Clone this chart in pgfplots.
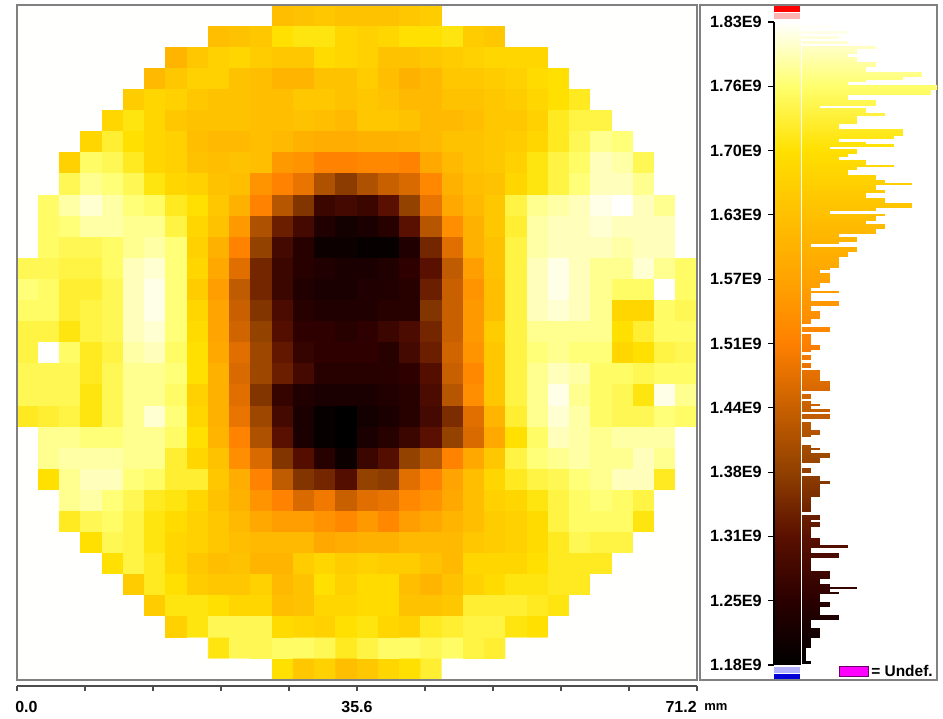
\documentclass[border=0pt]{standalone}
\usepackage{fontspec}
\setmainfont{Liberation Sans}
\usepackage{pgfplots}
\pgfplotsset{compat=1.18}
\pgfplotsset{
  colormap={wafer}{rgb255=(0,0,0) rgb255=(42,0,0) rgb255=(90,16,0) rgb255=(144,64,0) rgb255=(200,96,0) rgb255=(255,128,0) rgb255=(255,164,0) rgb255=(255,192,0) rgb255=(255,224,0) rgb255=(255,255,110) rgb255=(255,255,255)},
}
\definecolor{framegray}{gray}{0.5}
\definecolor{undefm}{RGB}{255,0,255}
\definecolor{undefb}{RGB}{110,0,110}
\begin{document}
\begin{tikzpicture}
\path[use as bounding box] (0,0) rectangle (707.25pt,538.5pt);
% ---------- wafer map
\begin{axis}[
  at={(12.75pt,28.5pt)},anchor=south west,scale only axis,width=510pt,height=506.25pt,
  xmin=-0.5,xmax=31.5,ymin=-0.5,ymax=31.5,y dir=reverse,
  xtick=\empty,ytick=\empty,axis line style={framegray,line width=0.9pt},axis on top,
  colormap name=wafer,point meta min=118,point meta max=183]
\addplot[matrix plot*,mesh/cols=32,point meta=explicit] table[row sep=\\,header=false,x expr={mod(\coordindex,32)},y expr={floor((\coordindex+0.5)/32)},meta index=0]{
183\\183\\183\\183\\183\\183\\183\\183\\183\\183\\183\\183\\163\\164\\165\\164\\164\\164\\165\\166\\183\\183\\183\\183\\183\\183\\183\\183\\183\\183\\183\\183\\
183\\183\\183\\183\\183\\183\\183\\183\\183\\163\\164\\165\\170\\171\\171\\168\\167\\168\\170\\170\\171\\166\\165\\183\\183\\183\\183\\183\\183\\183\\183\\183\\
183\\183\\183\\183\\183\\183\\183\\161\\165\\167\\168\\166\\165\\165\\169\\168\\167\\164\\164\\165\\166\\167\\168\\168\\168\\183\\183\\183\\183\\183\\183\\183\\
183\\183\\183\\183\\183\\183\\162\\165\\167\\167\\164\\163\\161\\161\\164\\164\\166\\163\\160\\162\\165\\165\\166\\167\\169\\170\\183\\183\\183\\183\\183\\183\\
183\\183\\183\\183\\183\\166\\168\\167\\165\\164\\164\\163\\163\\165\\165\\164\\165\\164\\162\\162\\164\\164\\165\\166\\168\\170\\172\\183\\183\\183\\183\\183\\
183\\183\\183\\183\\168\\171\\168\\165\\164\\164\\164\\163\\163\\164\\163\\162\\165\\165\\164\\162\\162\\163\\165\\165\\167\\172\\174\\174\\183\\183\\183\\183\\
183\\183\\183\\168\\173\\170\\168\\167\\163\\162\\162\\163\\162\\160\\159\\159\\160\\160\\161\\162\\164\\164\\165\\166\\168\\172\\175\\178\\177\\183\\183\\183\\
183\\183\\167\\176\\175\\172\\168\\167\\164\\163\\164\\163\\155\\154\\151\\151\\152\\152\\151\\158\\162\\164\\165\\167\\171\\174\\176\\180\\179\\175\\183\\183\\
183\\183\\175\\178\\177\\175\\171\\168\\167\\164\\163\\154\\151\\148\\141\\137\\141\\144\\146\\152\\160\\163\\164\\168\\171\\174\\177\\180\\180\\178\\183\\183\\
183\\176\\179\\181\\179\\177\\176\\172\\170\\165\\160\\151\\142\\136\\127\\128\\127\\131\\138\\148\\158\\162\\165\\174\\178\\179\\180\\182\\183\\180\\178\\183\\
183\\176\\177\\179\\179\\178\\178\\174\\168\\164\\155\\141\\133\\128\\123\\121\\122\\124\\131\\142\\153\\160\\165\\173\\179\\180\\180\\181\\180\\180\\180\\183\\
183\\176\\175\\175\\176\\178\\179\\177\\167\\160\\151\\138\\128\\124\\120\\120\\119\\119\\123\\134\\147\\160\\164\\174\\179\\180\\180\\180\\179\\180\\180\\183\\
175\\175\\174\\174\\176\\180\\181\\177\\168\\158\\147\\134\\127\\124\\123\\122\\122\\123\\125\\131\\143\\156\\164\\174\\180\\182\\180\\178\\178\\181\\178\\176\\
177\\176\\173\\173\\175\\180\\182\\177\\166\\156\\143\\134\\127\\123\\122\\122\\123\\123\\124\\133\\144\\154\\163\\174\\180\\182\\180\\178\\176\\176\\183\\176\\
176\\176\\173\\174\\175\\180\\182\\177\\168\\157\\144\\136\\129\\124\\123\\123\\123\\124\\124\\136\\144\\155\\163\\174\\180\\181\\180\\178\\168\\168\\176\\175\\
174\\174\\171\\174\\175\\180\\181\\177\\169\\157\\145\\138\\130\\125\\125\\124\\125\\127\\129\\134\\144\\155\\166\\174\\178\\178\\178\\178\\170\\173\\176\\176\\
174\\183\\176\\172\\174\\179\\180\\176\\170\\158\\147\\139\\132\\126\\125\\125\\125\\124\\128\\133\\145\\154\\165\\174\\177\\178\\177\\177\\168\\170\\174\\175\\
175\\175\\175\\172\\175\\178\\178\\177\\170\\160\\146\\139\\133\\128\\124\\124\\124\\124\\125\\130\\144\\152\\165\\174\\178\\180\\179\\176\\176\\175\\176\\176\\
175\\175\\175\\171\\175\\178\\178\\176\\167\\160\\147\\136\\126\\123\\122\\122\\122\\123\\124\\129\\142\\153\\165\\174\\178\\182\\178\\176\\175\\171\\182\\178\\
172\\173\\174\\171\\175\\178\\181\\177\\168\\160\\148\\139\\128\\122\\119\\118\\121\\122\\124\\128\\135\\147\\161\\173\\178\\181\\179\\176\\175\\175\\177\\176\\
183\\178\\178\\177\\177\\178\\178\\176\\170\\161\\151\\141\\131\\122\\119\\118\\122\\124\\127\\131\\138\\146\\158\\170\\176\\180\\179\\178\\179\\179\\179\\183\\
183\\178\\179\\179\\179\\178\\178\\173\\168\\164\\153\\146\\136\\130\\124\\120\\127\\130\\138\\142\\151\\158\\165\\174\\177\\178\\179\\178\\178\\180\\178\\183\\
183\\170\\178\\180\\180\\177\\176\\173\\173\\165\\159\\151\\143\\136\\134\\130\\138\\137\\147\\151\\157\\163\\168\\172\\174\\175\\177\\178\\180\\180\\172\\183\\
183\\183\\178\\179\\177\\175\\172\\171\\168\\164\\160\\154\\151\\146\\149\\144\\147\\148\\152\\154\\158\\163\\167\\168\\171\\174\\176\\177\\176\\174\\183\\183\\
183\\183\\172\\175\\176\\174\\171\\169\\167\\165\\162\\158\\156\\156\\154\\152\\155\\152\\156\\158\\161\\163\\166\\167\\169\\174\\176\\176\\176\\171\\183\\183\\
183\\183\\183\\170\\175\\174\\171\\168\\167\\165\\163\\162\\162\\162\\158\\159\\160\\160\\162\\162\\162\\165\\166\\167\\169\\172\\175\\174\\174\\183\\183\\183\\
183\\183\\183\\183\\170\\174\\172\\168\\165\\163\\164\\161\\161\\166\\168\\166\\167\\166\\166\\164\\162\\168\\168\\168\\170\\172\\172\\172\\183\\183\\183\\183\\
183\\183\\183\\183\\183\\166\\172\\170\\166\\165\\165\\167\\162\\164\\170\\167\\169\\169\\163\\161\\164\\167\\169\\171\\171\\172\\172\\183\\183\\183\\183\\183\\
183\\183\\183\\183\\183\\183\\166\\171\\171\\170\\168\\168\\163\\164\\168\\168\\169\\169\\164\\164\\165\\173\\173\\173\\172\\171\\183\\183\\183\\183\\183\\183\\
183\\183\\183\\183\\183\\183\\183\\167\\171\\175\\175\\175\\169\\168\\167\\170\\171\\168\\167\\172\\173\\174\\174\\171\\170\\183\\183\\183\\183\\183\\183\\183\\
183\\183\\183\\183\\183\\183\\183\\183\\183\\171\\175\\175\\176\\176\\175\\172\\174\\176\\176\\175\\176\\174\\173\\183\\183\\183\\183\\183\\183\\183\\183\\183\\
183\\183\\183\\183\\183\\183\\183\\183\\183\\183\\183\\183\\170\\165\\167\\163\\165\\168\\170\\173\\183\\183\\183\\183\\183\\183\\183\\183\\183\\183\\183\\183\\
};
\end{axis}
% ---------- histogram panel
\begin{axis}[
  at={(525pt,28.5pt)},anchor=south west,scale only axis,width=177.75pt,height=506.25pt,
  xmin=-11.09,xmax=14.67,ymin=116.48,ymax=184.72,
  xtick=\empty,ytick=\empty,axis line style={framegray,line width=0.9pt},
  colormap name=wafer,point meta min=118,point meta max=183]
\addplot[surf,shader=interp,mesh/cols=2,point meta=y] table{
x y
-3.05 118
-0.22 118
-3.05 124.5
-0.22 124.5
-3.05 131
-0.22 131
-3.05 137.5
-0.22 137.5
-3.05 144
-0.22 144
-3.05 150.5
-0.22 150.5
-3.05 157
-0.22 157
-3.05 163.5
-0.22 163.5
-3.05 170
-0.22 170
-3.05 176.5
-0.22 176.5
-3.05 183
-0.22 183
};
\addplot[fill=red,draw=none] coordinates {(-3.05,184.6)(-0.22,184.6)(-0.22,184.03)(-3.05,184.03)} --cycle;
\addplot[fill=red!30,draw=none] coordinates {(-3.05,183.93)(-0.22,183.93)(-0.22,183.26)(-3.05,183.26)} --cycle;
\addplot[fill=blue!30,draw=none] coordinates {(-3.05,117.8)(-0.22,117.8)(-0.22,117.2)(-3.05,117.2)} --cycle;
\addplot[fill=blue!85!black,draw=none] coordinates {(-3.05,117.07)(-0.22,117.07)(-0.22,116.56)(-3.05,116.56)} --cycle;
\addplot[-,point meta=y,quiver={u=\thisrow{c},v=0,colored=mapped color,every arrow/.append style={-,line width=1.93pt,line cap=butt}}] table[x expr=0,y=y]{
y c
182.48 3
181.96 5
181.44 4
180.92 5
180.40 8
180.14 6
179.88 6
179.62 5
179.36 6
179.10 6
178.84 8
178.58 8
178.32 7
178.06 7
177.80 13
177.54 13
177.28 11
177.02 7
176.76 5
176.50 15
176.24 15
175.98 14
175.72 14
175.46 5
175.20 5
174.94 8
174.68 8
174.42 2
174.16 7
173.90 7
173.64 9
173.38 6
173.12 6
172.86 6
172.60 4
172.34 4
172.08 11
171.82 11
171.56 11
171.30 10
171.04 4
170.78 7
170.52 10
170.26 3
170.00 6
169.74 6
169.48 5
169.22 4
168.96 7
168.70 7
168.44 10
168.18 6
167.92 5
167.66 5
167.40 8
167.14 8
166.88 9
166.62 12
166.36 8
166.10 8
165.84 9
165.58 7
165.32 7
165.06 9
164.80 9
164.54 12
164.28 12
164.02 8
163.76 3
163.50 9
163.24 8
162.98 8
162.72 7
162.46 9
162.20 9
161.94 8
161.68 8
161.42 4
161.16 6
160.90 6
160.64 4
160.38 1
160.12 6
159.86 6
159.60 5
159.34 5
159.08 4
158.82 4
158.56 4
158.30 4
158.04 3
157.78 2
157.52 3
157.26 3
157.00 3
156.74 3
156.48 2
156.22 2
155.96 1
155.70 4
155.44 1
155.18 1
154.92 1
154.66 4
154.40 4
154.14 1
153.88 1
153.62 2
153.36 2
153.10 2
152.84 1
152.58 1
152.06 3
151.80 3
151.28 1
151.02 1
150.76 1
150.50 1
150.24 2
149.98 2
149.72 1
149.20 1
148.94 1
148.42 1
148.16 1
147.64 2
147.38 2
147.12 2
146.86 2
146.60 3
146.34 3
146.08 3
145.82 3
145.30 1
145.04 1
144.52 1
144.26 2
144.00 1
143.74 3
143.22 3
142.96 3
142.44 1
142.18 1
141.92 1
141.66 2
141.40 2
141.14 1
140.10 1
139.84 2
139.58 1
139.32 3
139.06 3
138.80 2
138.54 2
137.76 1
137.50 1
136.98 2
136.72 2
136.46 3
136.20 2
135.94 2
135.68 2
135.42 2
135.16 2
134.90 1
134.64 1
134.38 1
134.12 1
133.86 1
133.60 1
133.08 2
132.82 2
132.56 1
132.30 2
132.04 2
131.78 1
131.52 1
131.26 1
131.00 1
130.74 2
130.48 2
130.22 2
129.96 5
129.70 1
129.44 1
129.18 4
128.92 4
128.66 1
128.40 1
128.14 1
127.88 1
127.62 1
127.36 3
127.10 3
126.84 3
126.58 2
126.32 2
126.06 3
125.80 6
125.54 3
125.28 4
125.02 2
124.76 2
124.50 2
124.24 3
123.98 3
123.72 2
123.46 2
123.20 2
122.94 4
122.68 4
122.42 1
122.16 1
121.90 1
121.64 2
121.38 2
121.12 2
120.86 2
120.60 1
120.34 1
120.08 1
119.82 1
119.56 0.4
119.30 0.4
119.04 0.4
118.78 0.4
118.52 0.4
118.26 1
};
\node[anchor=base west,inner sep=0pt,font=\bfseries\fontsize{11.6pt}{12pt}\selectfont] at (rel axis cs:0,0) [xshift=128.25pt,yshift=2.25pt] {= Undef.};
\end{axis}
% ---------- colour scale axis
\begin{axis}[
  at={(580.5pt,39.75pt)},anchor=south west,scale only axis,width=1pt,height=482.25pt,
  xmin=0,xmax=1,ymin=118,ymax=183,
  axis x line=none,axis y line=left,axis line style={-,black,line width=0.8pt},
  xtick=\empty,ytick={118,124.5,131,137.5,144,150.5,157,163.5,170,176.5,183},
  yticklabels={1.18E9,1.25E9,1.31E9,1.38E9,1.44E9,1.51E9,1.57E9,1.63E9,1.70E9,1.76E9,1.83E9},
  tick align=outside,major tick length=4.5pt,tick style={black,line width=0.8pt},
  yticklabel style={font=\bfseries\fontsize{12.2pt}{12pt}\selectfont,inner sep=0pt,xshift=-4.5pt}]
\addplot[draw=none,forget plot] coordinates {(0,118)(0,183)};
\end{axis}
% ---------- undefined swatch legend
\begin{axis}[
  at={(630pt,31.5pt)},anchor=south west,scale only axis,width=21pt,height=6.75pt,
  xmin=0,xmax=1,ymin=0,ymax=1,xtick=\empty,ytick=\empty,
  axis line style={undefb,line width=0.9pt}]
\addplot[fill=undefm,draw=none] coordinates {(0,0)(1,0)(1,1)(0,1)} --cycle;
\end{axis}
% ---------- mm ruler
\begin{axis}[
  at={(12.75pt,24pt)},anchor=south west,scale only axis,width=510pt,height=1pt,
  xmin=0,xmax=71.2,ymin=0,ymax=1,clip=false,
  axis y line=none,axis x line*=bottom,axis line style={-,black!70,line width=0.8pt},
  xtick={0,7.12,14.24,21.36,28.48,35.6,42.72,49.84,56.96,64.08,71.2},xticklabels={},
  tick align=outside,major tick length=3.75pt,tick style={black!70,line width=0.8pt}]
\addplot[draw=none,forget plot] coordinates {(0,0)(71.2,0)};
\node[anchor=base west,inner sep=0pt,font=\bfseries\fontsize{12pt}{12pt}\selectfont] at (rel axis cs:0,0) [xshift=-1.5pt,yshift=-19.5pt] {0.0};
\node[anchor=base,inner sep=0pt,font=\bfseries\fontsize{12pt}{12pt}\selectfont] at (rel axis cs:0.5,0) [yshift=-19.5pt] {35.6};
\node[anchor=base east,inner sep=0pt,font=\bfseries\fontsize{12pt}{12pt}\selectfont] at (rel axis cs:1,0) [yshift=-19.5pt] {71.2};
\node[anchor=base west,inner sep=0pt,font=\bfseries\fontsize{9.75pt}{12pt}\selectfont] at (rel axis cs:1,0) [xshift=5.25pt,yshift=-18.5pt] {mm};
\end{axis}
\end{tikzpicture}
\end{document}
